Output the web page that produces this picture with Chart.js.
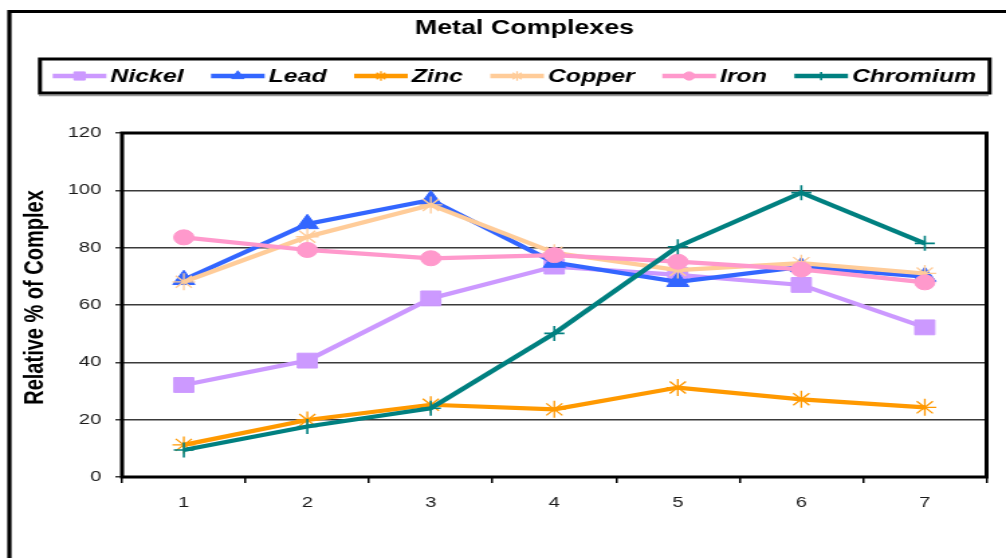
<!DOCTYPE html>
<html>
<head>
<meta charset="utf-8">
<script src="https://cdn.jsdelivr.net/npm/chart.js@4/dist/chart.umd.min.js"></script>
<style>
  html, body { margin: 0; padding: 0; background: #fff; overflow: hidden; }
  #wrap { width: 1006px; height: 558px; overflow: hidden; position: relative; }
  /* the chart is laid out on a narrower canvas and widened to the page */
  #c { transform: scaleX(1.341333); transform-origin: 0 0; filter: blur(0.4px); }
</style>
</head>
<body>
<div id="wrap"><canvas id="c" width="750" height="558"></canvas></div>
<script>
// ---- data ----
const samples = ['1', '2', '3', '4', '5', '6', '7'];
const seriesNames = ['Nickel', 'Lead', 'Zinc', 'Copper', 'Iron', 'Chromium'];
const nickel   = [32.1, 40.6, 62.3, 73.4, 70.5, 67.0, 52.2];
const lead     = [68.8, 88.3, 96.6, 74.8, 68.1, 73.3, 69.9];
const zinc     = [11.2, 19.9, 25.2, 23.6, 31.2, 27.1, 24.3];
const copper   = [68.1, 83.8, 94.9, 78.2, 72.2, 74.6, 71.0];
const iron     = [83.6, 79.2, 76.3, 77.4, 75.1, 72.4, 67.9];
const chromium = [9.4, 17.6, 24.0, 50.1, 80.3, 99.2, 81.5];
const yTickValues = [0, 20, 40, 60, 80, 100, 120];
const chartTitle = 'Metal Complexes';
const yTitle = 'Relative % of Complex';

// ---- styling per series ----
const seriesValues = [nickel, lead, zinc, copper, iron, chromium];
const seriesColors = ['#CC99FF', '#3366FF', '#FF9900', '#FFCC99', '#FF99CC', '#008080'];
const seriesMarkers = ['rect', 'triangle', 'star', 'star', 'circle', 'cross'];
const markerRadius = [10.5, 9.5, 8.5, 8.5, 7.5, 7.5];
const markerBorder = [1, 1, 1.3, 1.3, 1, 1.6];

const FONT = '"Liberation Sans", Arial, Helvetica, sans-serif';
Chart.defaults.font.family = FONT;

const datasets = seriesNames.map((name, i) => ({
  label: name,
  data: seriesValues[i],
  borderColor: seriesColors[i],
  backgroundColor: seriesColors[i],
  borderWidth: 4.2,
  tension: 0,
  pointStyle: seriesMarkers[i],
  pointRadius: markerRadius[i],
  pointBackgroundColor: seriesColors[i],
  pointBorderColor: seriesColors[i],
  pointBorderWidth: markerBorder[i],
  // later series sit on top
  order: seriesNames.length - i
}));

function marker(ctx, style, r, bw, x, y) {
  if (Chart.helpers && Chart.helpers.drawPoint) {
    Chart.helpers.drawPoint(ctx, { pointStyle: style, rotation: 0, radius: r, borderWidth: bw }, x, y);
  }
}

// frame, plot border, title, legend box and axis title
const decorations = {
  id: 'decorations',
  beforeDraw(chart) {
    const ctx = chart.ctx;
    ctx.save();
    ctx.fillStyle = '#fff';
    ctx.fillRect(0, 0, chart.width, chart.height);
    ctx.strokeStyle = '#000';
    ctx.lineWidth = 3.2;
    ctx.beginPath();
    ctx.moveTo(7, chart.height + 5);
    ctx.lineTo(7, 11.5);
    ctx.lineTo(chart.width + 5, 11.5);
    ctx.stroke();
    ctx.restore();
  },
  beforeDatasetsDraw(chart) {
    const ctx = chart.ctx, a = chart.chartArea;
    ctx.save();
    ctx.strokeStyle = '#000';
    ctx.lineWidth = 3;
    ctx.strokeRect(a.left, a.top, a.right - a.left, a.bottom - a.top);
    ctx.restore();
  },
  afterDraw(chart) {
    const ctx = chart.ctx;
    ctx.save();
    // title
    ctx.fillStyle = '#000';
    ctx.font = 'bold 20px ' + FONT;
    ctx.textAlign = 'center';
    ctx.textBaseline = 'middle';
    ctx.fillText(chartTitle, 391, 28.5);

    // legend box with a soft shadow line
    ctx.strokeStyle = '#9a9a9a';
    ctx.lineWidth = 1.5;
    ctx.beginPath();
    ctx.moveTo(29, 95.5);
    ctx.lineTo(737, 95.5);
    ctx.stroke();
    ctx.strokeStyle = '#000';
    ctx.lineWidth = 3;
    ctx.strokeRect(29.8, 59, 708, 34);
    ctx.font = 'italic bold 18.5px ' + FONT;
    ctx.textAlign = 'left';
    let x = 39.3;
    const ly = 76;
    seriesNames.forEach((name, i) => {
      const c = seriesColors[i];
      ctx.strokeStyle = c;
      ctx.fillStyle = c;
      ctx.lineWidth = 4.5;
      ctx.beginPath();
      ctx.moveTo(x, ly);
      ctx.lineTo(x + 40, ly);
      ctx.stroke();
      ctx.lineWidth = markerBorder[i];
      marker(ctx, seriesMarkers[i], markerRadius[i] * 0.55, markerBorder[i], x + 20, ly);
      ctx.fillStyle = '#000';
      ctx.fillText(name, x + 43, ly + 0.5);
      x += 43 + ctx.measureText(name).width + 20.5;
    });

    // y axis title
    ctx.translate(26, 297.5);
    ctx.rotate(-Math.PI / 2);
    ctx.font = 'bold 20px ' + FONT;
    ctx.textAlign = 'center';
    ctx.fillStyle = '#000';
    ctx.fillText(yTitle, 0, 0);
    ctx.restore();
  }
};

new Chart(document.getElementById('c'), {
  type: 'line',
  data: { labels: samples, datasets },
  plugins: [decorations],
  options: {
    responsive: false,
    animation: false,
    devicePixelRatio: 1,
    layout: { padding: { left: 0, right: 14.5, top: 133, bottom: 0 } },
    plugins: {
      legend: { display: false },
      title: { display: false },
      tooltip: { enabled: false }
    },
    scales: {
      x: {
        type: 'category',
        offset: true,
        afterFit(scale) { scale.height = 81; },
        grid: { offset: true, drawOnChartArea: false, drawTicks: true, tickLength: 6, color: '#000', lineWidth: 1.5 },
        border: { display: false },
        ticks: { color: '#1a1a1a', font: { size: 15 }, padding: 11, maxRotation: 0 }
      },
      y: {
        min: 0,
        max: 120,
        afterFit(scale) { scale.width = 91; },
        afterBuildTicks(scale) { scale.ticks = yTickValues.map(v => ({ value: v })); },
        grid: { color: '#3a3a3a', lineWidth: 1.5, drawTicks: true, tickLength: 5 },
        border: { display: false },
        ticks: { color: '#1a1a1a', font: { size: 15 }, padding: 10.5 }
      }
    }
  }
});
</script>
</body>
</html>
